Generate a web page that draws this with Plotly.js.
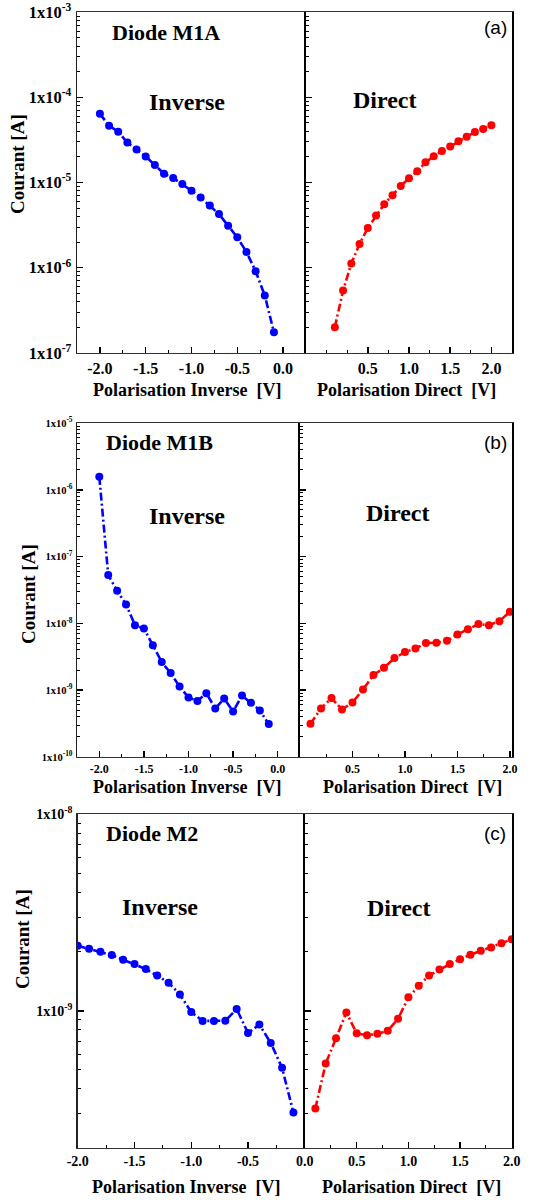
<!DOCTYPE html>
<html>
<head>
<meta charset="utf-8">
<script src="https://cdn.plot.ly/plotly-3.0.1.min.js"></script>
<style>html,body{margin:0;padding:0;background:#fff}#chart{width:541px;height:1200px}</style>
</head>
<body>
<div id="chart"></div>
<script>
// Voltages
const vInv = [-2.0,-1.9,-1.8,-1.7,-1.6,-1.5,-1.4,-1.3,-1.2,-1.1,-1.0,-0.9,-0.8,-0.7,-0.6,-0.5,-0.4,-0.3,-0.2,-0.1];
const vDir = [0.1,0.2,0.3,0.4,0.5,0.6,0.7,0.8,0.9,1.0,1.1,1.2,1.3,1.4,1.5,1.6,1.7,1.8,1.9,2.0];

// Diode M1A currents [A]
const aInv = [6.4e-5,4.65e-5,3.95e-5,2.94e-5,2.44e-5,2.02e-5,1.6e-5,1.27e-5,1.13e-5,9.6e-6,8.0e-6,6.65e-6,5.37e-6,4.26e-6,3.11e-6,2.27e-6,1.53e-6,9.1e-7,4.71e-7,1.74e-7];
const aDir = [2.0e-7,5.38e-7,1.12e-6,1.9e-6,2.92e-6,4.1e-6,5.57e-6,7.1e-6,9.1e-6,1.12e-5,1.36e-5,1.73e-5,2.04e-5,2.35e-5,2.64e-5,3.05e-5,3.45e-5,3.92e-5,4.25e-5,4.69e-5];

// Diode M1B currents [A]
const bInv = [1.57e-6,5.3e-8,3.08e-8,1.92e-8,9.4e-9,8.4e-9,4.72e-9,2.63e-9,1.8e-9,1.13e-9,7.77e-10,6.9e-10,9.0e-10,5.3e-10,7.5e-10,4.8e-10,8.3e-10,6.45e-10,4.97e-10,3.1e-10];
const bDir = [3.13e-10,5.32e-10,7.59e-10,5.13e-10,6.53e-10,1.02e-9,1.68e-9,2.16e-9,3.02e-9,3.71e-9,4.22e-9,5.06e-9,5.12e-9,5.48e-9,6.83e-9,8.2e-9,9.76e-9,9.4e-9,1.08e-8,1.49e-8];

// Diode M2 currents [A]
const cInv = [2.14e-9,2.07e-9,2.0e-9,1.92e-9,1.82e-9,1.73e-9,1.63e-9,1.51e-9,1.39e-9,1.21e-9,9.85e-10,8.87e-10,8.87e-10,8.9e-10,1.02e-9,7.7e-10,8.5e-10,6.86e-10,5.12e-10,3.03e-10];
const cDir = [3.18e-10,5.38e-10,7.24e-10,9.8e-10,7.67e-10,7.5e-10,7.64e-10,7.91e-10,9.1e-10,1.17e-9,1.34e-9,1.51e-9,1.62e-9,1.73e-9,1.83e-9,1.93e-9,2.02e-9,2.1e-9,2.21e-9,2.31e-9];

// Tick labels
const invTickVals = [-2.0,-1.5,-1.0,-0.5,0.0];
const invTickText = ['-2.0','-1.5','-1.0','-0.5','0.0'];
const dirTickVals = [0.5,1.0,1.5,2.0];
const dirTickText = ['0.5','1.0','1.5','2.0'];
const panelLabels = ['Diode M1A','Diode M1B','Diode M2'];
const panelTags = ['(a)','(b)','(c)'];

const SERIF = 'Liberation Serif, Times New Roman, serif';
const SANS = 'Liberation Sans, Arial, sans-serif';
const BLUE = '#0000FF', RED = '#FF0000';

function trace(x, y, color, xa, ya) {
  return {x:x, y:y, xaxis:xa, yaxis:ya, type:'scatter', mode:'lines+markers',
    line:{color:color, width:2.6, dash:'8px,3px,2px,3px'},
    marker:{color:color, size:8}, showlegend:false, hoverinfo:'skip'};
}
const data = [
  trace(vInv, aInv, BLUE, 'x', 'y'),
  trace(vDir, aDir, RED, 'x2', 'y2'),
  trace(vInv, bInv, BLUE, 'x3', 'y3'),
  trace(vDir, bDir, RED, 'x4', 'y4'),
  trace(vInv, cInv, BLUE, 'x5', 'y5'),
  trace(vDir, cDir, RED, 'x6', 'y6')
];

function pxX(p){return p/541;}
function pxY(p){return 1 - p/1200;}
const EPS = 0.002;

function decadeTicks(lo, hi) {
  const major = [], text = [], minor = [];
  for (let d = lo; d <= hi; d++) {
    major.push(Math.pow(10, d));
    text.push('1x10<sup>' + d + '</sup>');
    if (d < hi) for (let k = 2; k <= 9; k++) minor.push(k * Math.pow(10, d));
  }
  return {major, text, minor};
}

function yAxis(domain, range, lo, hi, fontSize, isLeft, anchor) {
  const t = decadeTicks(lo, hi);
  return {
    type:'log', domain:domain, range:range, anchor:anchor,
    tickmode:'array', tickvals:t.major, ticktext:t.text,
    ticks:'inside', ticklen:6, tickwidth:1.5, tickcolor:'#000',
    showticklabels:isLeft, ticklabeloverflow:'allow', ticklabelstandoff:1,
    tickfont:{family:SERIF, size:fontSize, color:'#000', weight:700},
    minor:{tickmode:'array', tickvals:t.minor, ticks:'inside', ticklen:3, tickwidth:1, tickcolor:'#000', showgrid:false},
    showline:true, linecolor: isLeft ? '#222' : '#000', linewidth: isLeft ? 1.4 : 1.6,
    mirror: !isLeft,
    showgrid:false, zeroline:false, fixedrange:true
  };
}
function xAxis(domain, range, vals, text, minorVals, fontSize, anchor) {
  return {
    domain:domain, range:range, anchor:anchor,
    tickmode:'array', tickvals:vals, ticktext:text,
    ticks:'inside', ticklen:6, tickwidth:1.5, tickcolor:'#000',
    ticklabeloverflow:'allow',
    tickfont:{family:SERIF, size:fontSize, color:'#000', weight:700},
    minor:{tickmode:'array', tickvals:minorVals, ticks:'inside', ticklen:3, tickwidth:1, tickcolor:'#000', showgrid:false},
    showline:true, linecolor:'#333', linewidth:1.3, mirror:true,
    showgrid:false, zeroline:false, fixedrange:true
  };
}
const invMinor = [-2.25,-1.75,-1.25,-0.75,-0.25,0.25];
const dirMinor = [-0.25,0.0,0.25,0.75,1.25,1.75,2.25];

const domA = [pxY(353), pxY(12)];
const domB = [pxY(757), pxY(423)];
const domC = [pxY(1148), pxY(814)];

const layout = {
  width:541, height:1200,
  margin:{l:0, r:0, t:0, b:0},
  paper_bgcolor:'#fff', plot_bgcolor:'#fff',
  showlegend:false,
  xaxis: xAxis([pxX(77), pxX(306)], [-2.25, 0.25], invTickVals, invTickText, invMinor, 16, 'y'),
  xaxis2: xAxis([pxX(306), pxX(512)], [-0.25, 2.25], dirTickVals, dirTickText, dirMinor, 16, 'y2'),
  xaxis3: xAxis([pxX(77), pxX(300)], [-2.25, 0.25], invTickVals, invTickText, invMinor, 12, 'y3'),
  xaxis4: xAxis([pxX(300), pxX(512)], [0, 2.02], dirTickVals, dirTickText, dirMinor, 12, 'y4'),
  xaxis5: xAxis([pxX(77.5), pxX(305)], [-2.0 - EPS, 0.0 + EPS], invTickVals, invTickText, invMinor, 14, 'y5'),
  xaxis6: xAxis([pxX(305), pxX(512)], [0, 2.0 + EPS], dirTickVals, dirTickText, dirMinor, 14, 'y6'),
  yaxis: yAxis(domA, [-7 - EPS, -3 + EPS], -7, -3, 16.5, true, 'x'),
  yaxis2: yAxis(domA, [-7 - EPS, -3 + EPS], -7, -3, 16.5, false, 'x2'),
  yaxis3: yAxis(domB, [-10 - EPS, -5 + EPS], -10, -5, 10.5, true, 'x3'),
  yaxis4: yAxis(domB, [-10 - EPS, -5 + EPS], -10, -5, 10.5, false, 'x4'),
  yaxis5: yAxis(domC, [Math.log10(2e-10), -8 + EPS], -9, -8, 14, true, 'x5'),
  yaxis6: yAxis(domC, [Math.log10(2e-10), -8 + EPS], -9, -8, 14, false, 'x6'),
  annotations: []
};
// extra minor ticks below 1e-9 for panel c
const cMinor = [2e-10,3e-10,4e-10,5e-10,6e-10,7e-10,8e-10,9e-10,2e-9,3e-9,4e-9,5e-9,6e-9,7e-9,8e-9,9e-9];
layout.yaxis5.minor.tickvals = cMinor;
layout.yaxis6.minor.tickvals = cMinor;

function ann(text, x, y, size, family, bold, angle) {
  layout.annotations.push({text:text, xref:'paper', yref:'paper', x:pxX(x), y:pxY(y),
    xanchor:'center', yanchor:'middle', showarrow:false, textangle:angle||0,
    font:{family:family, size:size, color:'#000', weight:bold?700:400}});
}
// panel labels
ann(panelLabels[0], 166, 33, 22, SERIF, true);
ann(panelLabels[1], 159, 442, 22, SERIF, true);
ann(panelLabels[2], 152, 833, 22, SERIF, true);
ann(panelTags[0], 495, 28, 19, SANS, false);
ann(panelTags[1], 495, 442, 19, SANS, false);
ann(panelTags[2], 495, 833, 19, SANS, false);
// Inverse / Direct
ann('Inverse', 187, 102, 24, SERIF, true);
ann('Direct', 385, 100, 24, SERIF, true);
ann('Inverse', 187, 516, 24, SERIF, true);
ann('Direct', 398, 513, 24, SERIF, true);
ann('Inverse', 160, 907, 24, SERIF, true);
ann('Direct', 399, 908, 24, SERIF, true);
// axis titles
ann('Polarisation Inverse  [V]', 187, 390, 18, SERIF, true);
ann('Polarisation Direct  [V]', 406, 390, 18, SERIF, true);
ann('Polarisation Inverse  [V]', 187, 787, 18, SERIF, true);
ann('Polarisation Direct  [V]', 412, 787, 18, SERIF, true);
ann('Polarisation Inverse  [V]', 186, 1187, 18, SERIF, true);
ann('Polarisation Direct  [V]', 411, 1187, 18, SERIF, true);
ann('Courant [A]', 17, 164, 19, SERIF, true, -90);
ann('Courant [A]', 28, 594, 19, SERIF, true, -90);
ann('Courant [A]', 22, 939, 19, SERIF, true, -90);

Plotly.newPlot('chart', data, layout, {displayModeBar:false, staticPlot:true});
</script>
</body>
</html>
